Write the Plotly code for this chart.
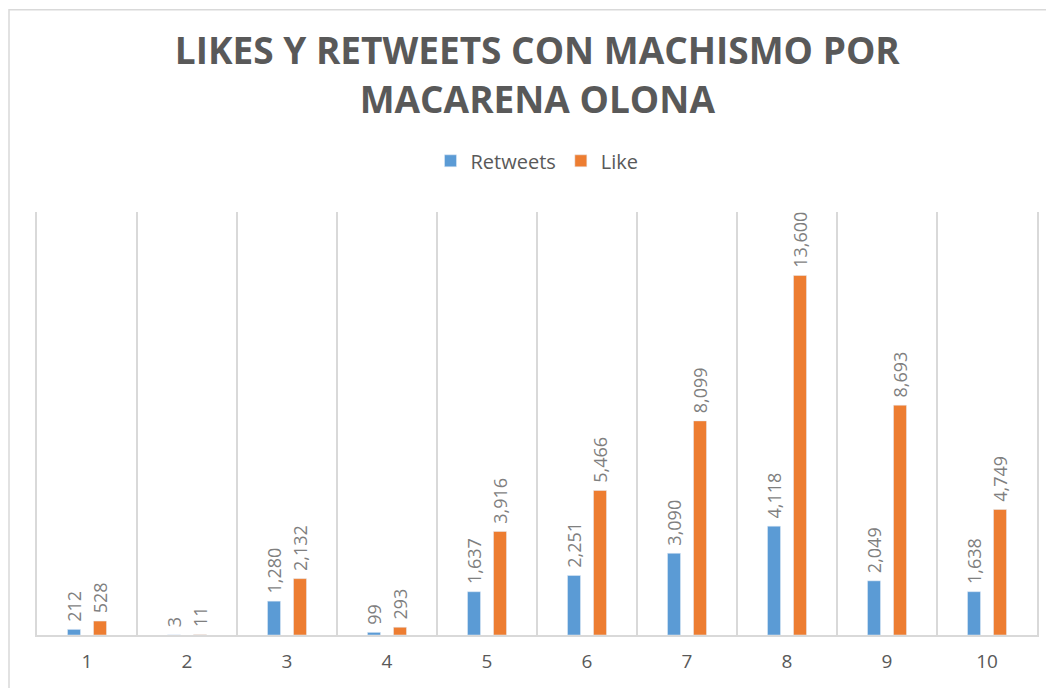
import plotly.graph_objects as go

# tweet number
tweets = [1, 2, 3, 4, 5, 6, 7, 8, 9, 10]
retweets = [212, 3, 1280, 99, 1637, 2251, 3090, 4118, 2049, 1638]
likes = [528, 11, 2132, 293, 3916, 5466, 8099, 13600, 8693, 4749]

blue = '#5b9bd5'
orange = '#ed7d31'
grid = '#d9d9d9'
label_gray = '#7f7f7f'
text_gray = '#595959'

fig = go.Figure()
fig.add_trace(go.Bar(x=tweets, y=retweets, name='Retweets', marker_color=blue,
                     texttemplate='\u00a0%{y:,}', textposition='outside', textangle=-90,
                     textfont=dict(color=label_gray, size=18), cliponaxis=False))
fig.add_trace(go.Bar(x=tweets, y=likes, name='Like', marker_color=orange,
                     texttemplate='\u00a0%{y:,}', textposition='outside', textangle=-90,
                     textfont=dict(color=label_gray, size=18), cliponaxis=False))

# the page body adds 8px, so the figure is 8px smaller than the window
fig.update_layout(
    width=1046, height=680,
    margin=dict(l=29, r=17, t=204, b=53),
    paper_bgcolor='white', plot_bgcolor='white',
    font=dict(family='Open Sans', color=text_gray),
    title=dict(text='LIKES Y RETWEETS CON MACHISMO POR<br>MACARENA OLONA',
               x=0.506, xanchor='center', y=0.917, yanchor='top',
               font=dict(size=37, weight='bold', color=text_gray)),
    barmode='group', bargap=0.48, bargroupgap=0.5,
    uniformtext=dict(minsize=18, mode='show'),
    legend=dict(orientation='h', x=0.5, xanchor='center', y=1.121, yanchor='middle',
                font=dict(size=20, color=text_gray), itemwidth=30),
    showlegend=True,
)
fig.update_xaxes(range=[0.5, 10.5], tickvals=tweets, showgrid=False,
                 showline=True, linecolor=grid, linewidth=1.5, ticks='',
                 ticklabelstandoff=8,
                 tickfont=dict(size=19, color=text_gray),
                 minor=dict(tickvals=[i + 0.5 for i in tweets[:-1]], showgrid=True,
                            gridcolor=grid, gridwidth=1.5))
fig.update_yaxes(range=[0, 16000], showgrid=False, zeroline=False,
                 showticklabels=False, showline=True, mirror=True,
                 linecolor=grid, linewidth=1.5)

# outer chart border
fig.add_shape(type='rect', xref='paper', yref='paper',
              x0=-0.028, x1=1.013, y0=-0.2, y1=1.478,
              line=dict(color=grid, width=1.5), fillcolor='rgba(0,0,0,0)')

fig.write_html('out.html')
